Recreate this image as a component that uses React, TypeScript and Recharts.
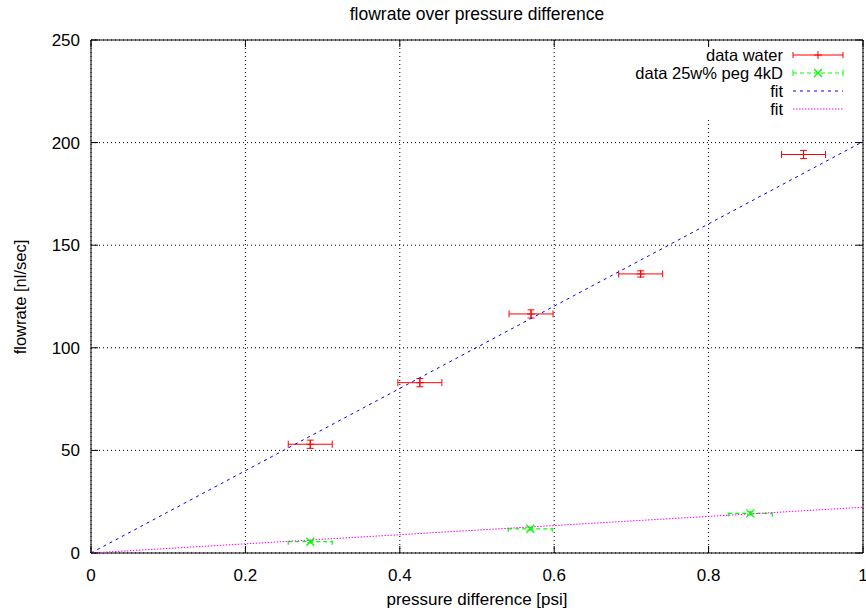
import React from "react";
import { ComposedChart, Scatter, Line, XAxis, YAxis, CartesianGrid, ErrorBar, ReferenceArea } from "recharts";

const pressureWater = [0.284, 0.426, 0.57, 0.712, 0.923];
const flowWater = [53, 83, 116.5, 136, 194.2];
const flowWaterErr = [2, 2, 2, 1.5, 2];
const pressureWaterErr = [0.0285, 0.0285, 0.0285, 0.0285, 0.0285];

const pressurePeg = [0.284, 0.569, 0.854];
const flowPeg = [5.5, 11.8, 19.3];
const flowPegErr = [0.6, 0.6, 0.8];
const pressurePegErr = [0.0285, 0.0285, 0.0285];

// linear fits, drawn between the ends of the x range
const fitX = [0, 1];
const fitWaterY = [0, 200.5];
const fitPegY = [0, 22.3];

const xTicks = [0, 0.2, 0.4, 0.6, 0.8, 1];
const yTicks = [0, 50, 100, 150, 200, 250];

const W = 866;
const H = 614;
const PLOT_LEFT = 91;
const PLOT_RIGHT = 863;
const PLOT_TOP = 40;
const FONT = "'Liberation Sans', Arial, Helvetica, sans-serif";
const FS = 17;

const waterData = pressureWater.map((x, i) => ({ x, y: flowWater[i], xErr: pressureWaterErr[i], yErr: flowWaterErr[i] }));
const pegData = pressurePeg.map((x, i) => ({ x, y: flowPeg[i], xErr: pressurePegErr[i], yErr: flowPegErr[i] }));
const fitWater = fitX.map((x, i) => ({ x, y: fitWaterY[i] }));
const fitPeg = fitX.map((x, i) => ({ x, y: fitPegY[i] }));

function XTick({ x, y, payload }: any) {
    return (
        <g>
            <line x1={x} y1={y} x2={x} y2={y - 7} stroke="#000" />
            <line x1={x} y1={PLOT_TOP} x2={x} y2={PLOT_TOP + 7} stroke="#000" />
            <text x={x} y={y + 28} textAnchor="middle" fontSize={FS} fontFamily={FONT} fill="#000">
                {String(payload.value)}
            </text>
        </g>
    );
}

function YTick({ x, y, payload }: any) {
    return (
        <g>
            <line x1={x} y1={y} x2={x + 7} y2={y} stroke="#000" />
            <line x1={PLOT_RIGHT} y1={y} x2={PLOT_RIGHT - 7} y2={y} stroke="#000" />
            <text x={x - 11} y={y + 6} textAnchor="end" fontSize={FS} fontFamily={FONT} fill="#000">
                {String(payload.value)}
            </text>
        </g>
    );
}

function PlusMark({ cx, cy }: any) {
    if (cx == null || cy == null) return null;
    return (
        <g stroke="#ff0000" strokeWidth={1}>
            <line x1={cx - 4} y1={cy} x2={cx + 4} y2={cy} />
            <line x1={cx} y1={cy - 4} x2={cx} y2={cy + 4} />
        </g>
    );
}

function CrossMark({ cx, cy }: any) {
    if (cx == null || cy == null) return null;
    return (
        <g stroke="#00ff00" strokeWidth={1.3}>
            <line x1={cx - 4} y1={cy - 4} x2={cx + 4} y2={cy + 4} />
            <line x1={cx - 4} y1={cy + 4} x2={cx + 4} y2={cy - 4} />
        </g>
    );
}

function KeyBox() {
    const left = 620;
    const top = 47;
    const textRight = 783 - left;
    const s0 = 793 - left;
    const s1 = 843 - left;
    const mid = (s0 + s1) / 2;
    const rows = [55 - top, 73 - top, 91 - top, 109 - top];
    return (
        <svg
            width={240}
            height={72}
            style={{ position: "absolute", left, top, background: "#fff" }}
        >
            <g fontSize={16.5} fontFamily={FONT} fill="#000" textAnchor="end">
                <text x={textRight} y={rows[0] + 6}>data water</text>
                <text x={textRight} y={rows[1] + 6}>data 25w% peg 4kD</text>
                <text x={textRight} y={rows[2] + 6}>fit</text>
                <text x={textRight} y={rows[3] + 6}>fit</text>
            </g>
            <g stroke="#ff0000">
                <line x1={s0} y1={rows[0]} x2={s1} y2={rows[0]} />
                <line x1={s0} y1={rows[0] - 3} x2={s0} y2={rows[0] + 3} />
                <line x1={s1} y1={rows[0] - 3} x2={s1} y2={rows[0] + 3} />
            </g>
            <PlusMark cx={mid} cy={rows[0]} />
            <g stroke="#00ff00">
                <line x1={s0} y1={rows[1]} x2={s1} y2={rows[1]} strokeDasharray="4 3" />
                <line x1={s0} y1={rows[1] - 3} x2={s0} y2={rows[1] + 3} />
                <line x1={s1} y1={rows[1] - 3} x2={s1} y2={rows[1] + 3} />
            </g>
            <CrossMark cx={mid} cy={rows[1]} />
            <line x1={s0} y1={rows[2]} x2={s1} y2={rows[2]} stroke="#0000ff" strokeDasharray="3 4" />
            <line x1={s0} y1={rows[3]} x2={s1} y2={rows[3]} stroke="#ff00ff" strokeDasharray="1.5 1.5" />
        </svg>
    );
}

export default function App() {
    return (
        <div style={{ position: "absolute", left: 0, top: 0, width: W, height: H, background: "#fff", fontFamily: FONT }}>
            <ComposedChart width={W} height={H} margin={{ top: PLOT_TOP, right: W - PLOT_RIGHT, bottom: 0, left: 0 }}>
                <CartesianGrid stroke="#000" strokeDasharray="1 3" horizontal vertical />
                <XAxis
                    dataKey="x"
                    type="number"
                    domain={[0, 1]}
                    ticks={xTicks}
                    interval={0}
                    height={61}
                    tickSize={0}
                    tickMargin={0}
                    axisLine={false}
                    tick={<XTick />}
                />
                <YAxis
                    type="number"
                    domain={[0, 250]}
                    ticks={yTicks}
                    interval={0}
                    width={PLOT_LEFT}
                    tickSize={0}
                    tickMargin={0}
                    axisLine={false}
                    tick={<YTick />}
                />
                <ReferenceArea x1={0} x2={1} y1={0} y2={250} fill="none" stroke="#000" strokeWidth={1} ifOverflow="extendDomain" />
                <Scatter data={waterData} dataKey="y" shape={<PlusMark />} isAnimationActive={false}>
                    <ErrorBar dataKey="xErr" direction="x" width={3.5} stroke="#ff0000" strokeWidth={1} />
                    <ErrorBar dataKey="yErr" direction="y" width={3.5} stroke="#ff0000" strokeWidth={1} />
                </Scatter>
                <Scatter data={pegData} dataKey="y" shape={<CrossMark />} isAnimationActive={false}>
                    <ErrorBar dataKey="xErr" direction="x" width={3} stroke="#00ff00" strokeWidth={1.2} strokeDasharray="4 3" />
                    <ErrorBar dataKey="yErr" direction="y" width={3} stroke="#00ff00" strokeWidth={1} />
                </Scatter>
                <Line data={fitWater} dataKey="y" type="linear" stroke="#0000ff" strokeWidth={1} strokeDasharray="3 4" dot={false} activeDot={false} isAnimationActive={false} />
                <Line data={fitPeg} dataKey="y" type="linear" stroke="#ff00ff" strokeWidth={1} strokeDasharray="1.5 1.5" dot={false} activeDot={false} isAnimationActive={false} />
            </ComposedChart>
            <KeyBox />
            <div style={{ position: "absolute", left: 477, top: 14, transform: "translate(-50%, -50%)", fontSize: 17.5, whiteSpace: "nowrap" }}>
                flowrate over pressure difference
            </div>
            <div style={{ position: "absolute", left: 477, top: 600, transform: "translate(-50%, -50%)", fontSize: FS, whiteSpace: "nowrap" }}>
                pressure difference [psi]
            </div>
            <div style={{ position: "absolute", left: 20, top: 297, transform: "translate(-50%, -50%) rotate(-90deg)", fontSize: 16.5, whiteSpace: "nowrap" }}>
                flowrate [nl/sec]
            </div>
        </div>
    );
}
